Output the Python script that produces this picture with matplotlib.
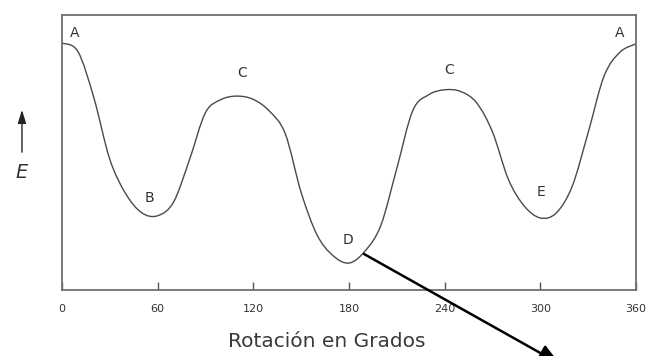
import matplotlib
matplotlib.use("Agg")
import matplotlib.pyplot as plt
from matplotlib.path import Path
from matplotlib.patches import PathPatch

# Data: rotation angle (degrees) vs energy (arbitrary units, 0-10)
angle = [0, 10, 20, 30, 40, 50, 60, 70, 80, 90, 100, 110, 120, 130, 140, 150,
         160, 170, 180, 190, 200, 210, 220, 230, 240, 250, 260, 270, 280, 290,
         300, 310, 320, 330, 340, 350, 360]
energy = [8.98, 8.67, 6.99, 4.75, 3.50, 2.81, 2.70, 3.20, 4.74, 6.45, 6.93, 7.05,
          6.93, 6.51, 5.69, 3.55, 2.00, 1.25, 0.98, 1.41, 2.35, 4.42, 6.52, 7.10,
          7.28, 7.22, 6.81, 5.75, 4.02, 3.05, 2.62, 2.80, 3.77, 5.72, 7.78, 8.65,
          8.95]

xticks = [0, 60, 120, 180, 240, 300, 360]
point_labels = ["A", "B", "C", "D", "C", "E", "A"]
label_x = [8.2, 54.6, 112.9, 179.4, 242.7, 300.4, 350.0]
label_y = [9.35, 3.35, 7.89, 1.82, 8.0, 3.56, 9.35]


def smooth_path(xs, ys):
    """Catmull-Rom style cubic Bezier path passing through the data points."""
    pts = list(zip(xs, ys))
    n = len(pts)
    verts = [pts[0]]
    codes = [Path.MOVETO]
    for i in range(n - 1):
        p0 = pts[i - 1] if i > 0 else pts[i]
        p1 = pts[i]
        p2 = pts[i + 1]
        p3 = pts[i + 2] if i + 2 < n else pts[i + 1]
        c1 = (p1[0] + (p2[0] - p0[0]) / 6.0, p1[1] + (p2[1] - p0[1]) / 6.0)
        c2 = (p2[0] - (p3[0] - p1[0]) / 6.0, p2[1] - (p3[1] - p1[1]) / 6.0)
        verts += [c1, c2, p2]
        codes += [Path.CURVE4] * 3
    return Path(verts, codes)


fig = plt.figure(figsize=(6.51, 3.56), dpi=100)
ax = fig.add_axes([0.0952, 0.1854, 0.8817, 0.7725])
ax.add_patch(PathPatch(smooth_path(angle, energy), fill=False,
                       edgecolor="#4a4a4a", lw=1.0))
ax.set_xlim(0, 360)
ax.set_ylim(0, 10)
ax.set_xticks(xticks)
ax.set_xticklabels([str(t) for t in xticks])
ax.set_yticks([])
ax.tick_params(axis="x", direction="in", length=6, width=1, color="#555555",
               pad=10, labelsize=8, labelcolor="#333333")
for s in ax.spines.values():
    s.set_color("#707070")
    s.set_linewidth(1.3)

for t, x, y in zip(point_labels, label_x, label_y):
    ax.text(x, y, t, ha="center", va="center", fontsize=10, color="#333333")

ax.text(0.4617, -0.189, "Rotación en Grados", transform=ax.transAxes,
        ha="center", va="center", fontsize=14.5, color="#3a3a3a")

# Y-axis label: upward arrow and italic E
ax.annotate("", xy=(-0.0697, 0.665), xytext=(-0.0697, 0.491),
            xycoords="axes fraction", textcoords="axes fraction",
            arrowprops=dict(arrowstyle="-|>,head_length=0.8,head_width=0.25",
                            color="#222222", lw=1.0), annotation_clip=False)
ax.text(-0.0697, 0.429, "E", transform=ax.transAxes, ha="center", va="center",
        fontsize=14, style="italic", color="#333333", fontweight="light")

# Black arrow from near D going down-right out of the figure
ax.annotate("", xy=(312.3, -2.69), xytext=(189.4, 1.31),
            xycoords="data", textcoords="data",
            arrowprops=dict(arrowstyle="-|>,head_length=1.3,head_width=0.55",
                            color="black", lw=1.8, shrinkA=0, shrinkB=0),
            annotation_clip=False)

fig.savefig("out.png", dpi=100)
